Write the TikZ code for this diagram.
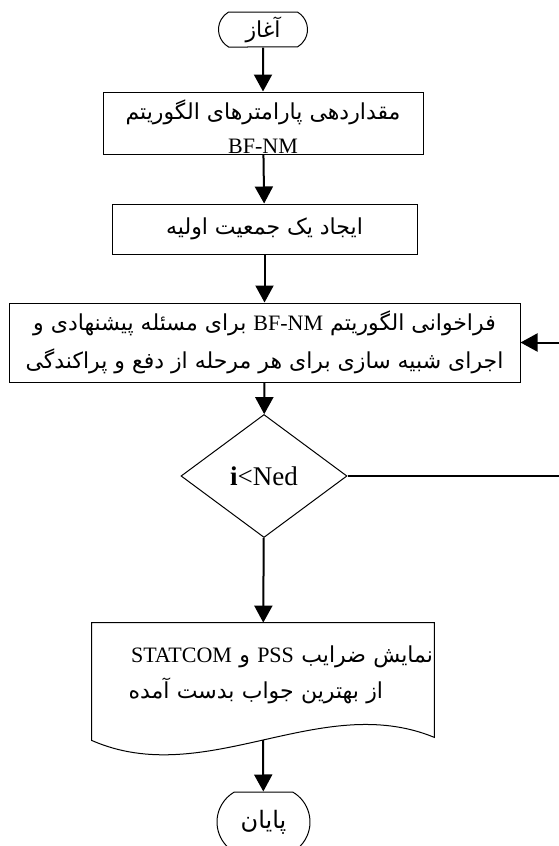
\documentclass[tikz,border=0pt]{standalone}
\usepackage{fontspec}
\setmainfont{Liberation Serif}
\newfontfamily\farsifont[Script=Arabic]{DejaVu Sans}
\TeXXeTstate=1
\usetikzlibrary{shapes.geometric, shapes.misc, positioning, arrows.meta}
\newcommand{\fa}[1]{{\farsifont\beginR #1\endR}}
\newcommand{\la}[1]{\beginL{\rmfamily #1}\endL{}}
\tikzset{
terminal/.style={shape=rounded rectangle, rounded rectangle arc length=120, draw, line width=0.5pt, minimum width=44.5pt, minimum height=17.5pt, inner sep=0, font=\fontsize{11}{13}\selectfont},
process/.style={shape=rectangle, draw, line width=0.5pt, inner sep=0, align=center, font=\fontsize{11}{14.5}\selectfont},
decision/.style={shape=diamond, draw, line width=0.5pt, minimum width=83pt, minimum height=61.5pt, inner sep=0, font=\fontsize{13.5}{16}\selectfont},
docbox/.style={shape=rectangle, inner sep=0.5pt, minimum width=171pt, minimum height=52pt, text width=170pt, align=right, font=\fontsize{11}{18}\selectfont},
flow/.style={-{Triangle[length=8.5pt, width=9pt]}, line width=1pt}}
\begin{document}
\begin{tikzpicture}[x=0.5pt, y=-0.5pt]
\useasboundingbox (0,0) rectangle (558,846);
\node [terminal] at (263, 29.5) (start) {\fa{آغاز}};
\node [process, minimum width=160pt, minimum height=31pt, font=\fontsize{11}{15}\selectfont] at (263, 123) (params) {\rule{0pt}{13.5pt}\fa{مقداردهی پارامترهای الگوریتم}\\[2pt] BF-NM};
\node [process, minimum width=152.5pt, minimum height=25pt] at (264.5, 229) (init) {\fa{ایجاد یک جمعیت اولیه}};
\node [process, minimum width=255.5pt, minimum height=39.5pt, font=\fontsize{11}{19}\selectfont] at (264.5, 342.5) (call)
  {\fa{فراخوانی الگوریتم \la{BF-NM} برای مسئله پیشنهادی و}\\ \fa{اجرای شبیه سازی برای هر مرحله از دفع و پراکندگی}};
\node [decision] at (264, 476) (test) {\textbf{i}<Ned};
\node [docbox] at (263, 675) (res) {\fa{نمایش ضرایب \la{PSS} و \la{STATCOM}}\\ \fa{از بهترین جواب بدست آمده}\rule{25pt}{0pt}};
\draw [line width=0.5pt] (res.north west) -- (res.north east) -- ([yshift=-5pt]res.south east)
  .. controls +(-114,-47) and +(114,50) .. coordinate[pos=0.5] (wave) ([yshift=-6.5pt]res.south west) -- cycle;
\node [terminal, minimum width=46.5pt, minimum height=30pt, font=\fontsize{12}{14}\selectfont] at (263.5, 822) (stop) {\fa{پایان}};
\coordinate (loop) at (580, 476);

\draw [flow] (start) -- (params);
\draw [flow] (params) -- (init);
\draw [flow] (init) -- (call);
\draw [flow] (call) -- (test);
\draw [flow] (test) -- (res);
\draw [flow] (test.east) -- (loop) |- (call.east);
\draw [flow] (wave) -- (stop);
\end{tikzpicture}
\end{document}
